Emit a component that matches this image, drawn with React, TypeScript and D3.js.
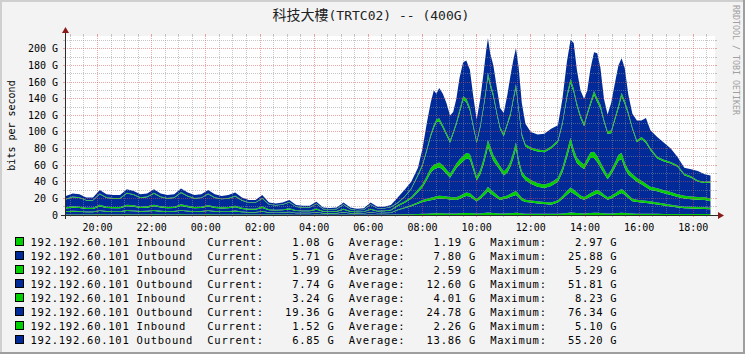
import React from 'react';
import * as d3 from 'd3';

// ---------- data ----------
const timeLabels = [
  '18:50','19:05','19:20','19:35','19:50','20:05','20:20','20:35','20:50','21:05','21:20','21:35','21:50',
  '22:05','22:20','22:35','22:50','23:05','23:20','23:35','23:50','00:05','00:20','00:35','00:50','01:05',
  '01:20','01:35','01:50','02:05','02:20','02:35','02:50','03:05','03:20','03:35','03:50','04:05','04:20',
  '04:35','04:50','05:05','05:20','05:35','05:50','06:05','06:20','06:35','06:50',
  '07:05','07:20','07:35','07:50','08:00','08:10','08:18','08:25','08:31','08:37','08:45','08:53','09:01',
  '09:08','09:15','09:22','09:30','09:37','09:45','09:52','10:00','10:08','10:15','10:21','10:25','10:30',
  '10:37','10:45','10:52','11:00','11:08','11:15','11:21','11:27','11:33','11:40','11:48','12:00','12:15',
  '12:30','12:45','13:00','13:10','13:20','13:28','13:35','13:42','13:50','13:58','14:05','14:12','14:20',
  '14:27','14:34','14:42','14:50','14:58','15:06','15:14','15:21','15:28','15:36','15:45','15:55','16:05',
  '16:15','16:25','16:40','16:55','17:10','17:25','17:40','17:55','18:10','18:25','18:38'
];

const inbound1 = [
  0.6,0.7,0.6,0.6,0.6,0.8,0.7,0.6,0.6,0.8,0.7,0.6,0.7,0.8,0.7,0.6,0.6,0.8,0.7,0.6,0.6,0.8,0.6,0.6,0.6,0.7,
  0.6,0.5,0.5,0.7,0.5,0.5,0.5,0.6,0.4,0.4,0.4,0.5,0.4,0.4,0.4,0.5,0.4,0.3,0.4,0.5,0.4,0.4,0.5,
  0.6,0.8,1.0,1.2,1.4,1.6,1.8,2.0,2.0,2.1,2.0,1.9,1.8,1.8,1.9,2.1,2.3,2.4,2.3,2.0,1.7,1.9,2.3,2.7,2.97,2.7,
  2.4,2.1,1.9,1.8,2.0,2.2,2.5,2.8,2.4,1.9,1.6,1.5,1.5,1.4,1.4,1.5,1.9,2.5,2.9,2.7,2.3,2.0,1.9,2.0,2.3,2.6,
  2.6,2.4,2.0,1.8,1.9,2.1,2.4,2.6,2.4,2.0,1.7,1.6,1.6,1.6,1.5,1.4,1.3,1.2,1.2,1.1,1.1,1.1,1.1,1.08
];
const outbound1 = [
  2.9,3.3,3.2,2.7,2.8,3.9,3.2,3.0,3.1,4.0,3.8,3.2,3.4,4.1,3.3,3.1,3.2,4.2,3.5,3.1,3.3,3.9,3.2,3.0,3.1,3.6,
  2.8,2.5,2.4,3.3,2.2,2.0,2.1,2.6,1.8,1.7,1.7,2.5,1.5,1.4,1.5,2.4,1.5,1.3,1.3,2.4,1.6,1.7,2.0,
  5.1,7.2,9.6,12.4,14.4,15.3,16.0,16.5,17.2,17.7,17.7,17.3,17.0,16.6,16.2,17.3,19.0,20.6,20.1,17.6,14.7,17.6,
  20.7,23.3,25.88,23.5,21.2,18.5,16.1,17.4,18.2,19.7,20.5,21.2,18.6,15.6,14.0,13.5,12.5,11.8,11.1,13.5,17.6,
  22.0,25.1,22.9,20.9,18.0,16.6,18.2,19.7,21.4,23.2,21.8,19.3,16.6,18.1,20.2,22.2,24.0,22.0,18.6,15.0,14.0,
  13.6,13.0,12.5,11.3,10.2,9.1,7.9,6.9,6.7,6.4,6.1,5.71
];
const inbound2 = [
  0.9,1.0,0.9,0.8,0.8,1.1,0.9,0.9,0.9,1.1,1.0,0.9,0.9,1.1,1.0,0.9,0.9,1.1,1.0,0.9,0.9,1.1,0.9,0.9,0.9,1.0,
  0.8,0.7,0.7,0.9,0.6,0.6,0.6,0.7,0.6,0.5,0.5,0.7,0.5,0.5,0.5,0.7,0.5,0.4,0.4,0.7,0.5,0.5,0.6,
  0.8,1.1,1.4,1.8,2.2,2.6,3.0,3.2,3.3,3.4,3.3,3.1,2.9,3.0,3.2,3.6,3.9,4.0,3.9,3.4,2.8,3.3,4.0,4.8,5.29,4.8,
  4.3,3.6,3.1,3.0,3.4,3.8,4.3,4.9,4.2,3.2,2.8,2.6,2.5,2.5,2.6,2.8,3.4,4.4,5.2,4.8,4.1,3.6,3.3,3.6,4.1,4.6,
  4.6,4.2,3.4,3.0,3.2,3.7,4.3,4.6,4.2,3.5,2.9,2.7,2.7,2.7,2.5,2.4,2.3,2.2,2.1,2.0,2.0,2.0,2.0,1.99
];
const outbound2 = [
  3.4,3.8,3.7,3.1,3.0,4.5,3.6,3.6,3.5,4.6,4.3,3.7,3.8,4.5,3.9,3.5,3.7,4.8,4.0,3.6,3.6,4.4,3.7,3.4,3.5,4.0,
  3.1,2.7,2.8,3.6,2.4,2.3,2.4,2.8,2.0,1.9,1.8,2.7,1.6,1.5,1.6,2.6,1.6,1.4,1.5,2.7,1.8,1.8,2.2,
  4.1,5.5,7.5,12.3,15.4,23.4,30.2,33.2,33.7,34.4,31.4,27.4,23.3,29.4,35.4,37.8,39.5,41.0,40.7,32.4,22.3,26.2,
  33.5,42.2,47.86,44.0,37.6,35.1,32.9,25.3,27.7,32.9,40.7,51.1,35.8,26.9,23.6,20.2,17.5,16.9,19.7,22.4,28.7,
  40.7,51.81,41.3,35.3,34.9,33.7,38.6,42.7,40.2,33.6,29.0,25.5,21.6,25.8,31.0,36.6,36.3,27.9,24.6,25.1,21.8,
  19.1,16.0,13.5,13.4,12.5,11.7,10.5,9.8,9.2,9.0,9.0,7.74
];
const inbound3 = [
  1.5,1.7,1.6,1.4,1.4,2.0,1.6,1.6,1.5,2.0,1.9,1.6,1.7,2.0,1.7,1.6,1.6,2.1,1.8,1.5,1.6,1.9,1.6,1.5,1.6,1.8,
  1.4,1.2,1.2,1.6,1.1,1.0,1.1,1.3,1.0,0.9,0.9,1.3,0.8,0.8,0.8,1.3,0.8,0.7,0.7,1.3,0.9,0.9,1.0,
  1.4,1.8,2.2,3.0,3.6,4.5,5.2,5.5,5.6,5.8,5.6,5.2,4.8,5.0,5.4,6.0,6.5,6.7,6.5,5.6,4.6,5.4,6.4,7.5,8.23,7.6,
  6.8,5.8,5.0,4.8,5.5,6.2,7.0,7.8,6.6,5.2,4.6,4.3,4.2,4.1,4.3,4.6,5.6,7.2,8.1,7.6,6.5,5.7,5.4,5.8,6.6,7.3,
  7.2,6.6,5.4,4.8,5.2,6.0,6.9,7.4,6.6,5.6,4.8,4.5,4.4,4.3,4.0,3.8,3.6,3.5,3.4,3.3,3.2,3.2,3.2,3.24
];
const outbound3 = [
  9.5,10.8,10.5,8.8,8.9,12.7,10.5,10.0,10.1,13.3,12.4,10.5,10.8,13.2,10.7,10.0,10.5,13.6,11.3,10.0,10.4,12.8,
  10.5,9.5,9.9,11.2,8.6,7.2,7.3,9.6,5.6,5.1,5.7,7.0,3.8,3.4,3.5,5.6,2.2,2.0,2.1,5.0,2.2,1.6,1.8,4.9,2.5,2.4,3.1,
  2.3,4.9,9.3,16.7,22.0,30.4,37.8,44.4,50.2,49.6,45.0,41.1,37.2,41.8,46.5,55.9,67.8,61.3,52.0,45.7,40.4,50.6,
  60.5,69.0,76.34,72.7,69.7,54.9,44.0,42.7,51.2,55.2,62.0,65.2,58.4,42.2,35.9,36.9,38.3,38.8,40.9,42.7,51.8,
  64.2,66.0,68.2,61.9,52.8,46.1,52.1,56.6,68.9,65.0,65.0,56.4,50.2,44.4,50.5,55.6,68.1,70.5,66.5,53.5,42.9,
  50.1,49.2,44.0,35.7,34.6,34.3,32.9,24.9,22.8,18.3,17.1,19.36
];
const inbound4 = [
  0.8,0.9,0.8,0.7,0.7,1.0,0.8,0.8,0.8,1.0,0.9,0.8,0.9,1.0,0.9,0.8,0.8,1.1,0.9,0.8,0.8,1.0,0.8,0.8,0.8,0.9,
  0.7,0.6,0.6,0.8,0.6,0.5,0.6,0.7,0.5,0.5,0.5,0.7,0.4,0.4,0.5,0.6,0.4,0.4,0.4,0.6,0.5,0.5,0.6,
  0.7,1.0,1.3,1.8,2.4,3.0,3.4,3.6,3.5,3.6,3.5,3.2,3.0,3.1,3.3,3.8,4.2,4.3,4.0,3.4,2.8,3.3,3.9,4.6,5.1,4.6,
  4.2,3.5,3.0,2.9,3.4,3.9,4.3,4.7,4.0,3.1,2.6,2.4,2.3,2.3,2.4,2.5,3.3,4.3,5.0,4.6,4.0,3.5,3.3,3.6,4.0,4.5,
  4.4,4.0,3.2,2.8,3.1,3.6,4.1,4.4,4.0,3.2,2.8,2.6,2.6,2.6,2.4,2.2,2.0,1.9,1.8,1.6,1.6,1.5,1.5,1.52
];
const outbound4 = [
  3.4,3.8,3.7,2.9,2.8,4.0,3.7,3.5,3.5,4.2,4.0,3.7,3.8,4.3,3.8,3.5,3.7,4.3,3.8,3.5,3.8,4.1,3.7,3.3,3.6,3.8,
  3.0,2.6,2.5,3.5,2.0,2.0,2.0,2.3,1.9,1.7,1.7,2.0,1.6,1.5,1.6,1.9,1.6,1.4,1.5,1.9,1.8,1.8,2.0,
  6.0,7.7,7.7,7.8,18.6,31.2,37.6,41.6,30.5,36.4,37.5,35.8,30.0,23.3,28.1,38.5,40.8,45.7,45.5,34.9,25.7,31.7,
  38.7,43.9,41.33,35.1,33.8,28.5,23.0,25.1,33.6,44.1,44.7,43.3,48.0,36.9,24.9,18.6,18.2,20.2,21.6,18.0,27.7,
  39.7,46.89,55.2,40.0,29.5,29.7,26.1,40.0,46.5,54.4,45.0,24.8,20.2,33.3,40.9,47.9,41.6,39.4,21.0,16.2,23.9,
  19.9,27.6,21.6,23.8,20.5,16.1,10.2,7.4,8.4,11.5,9.0,6.85
];

const seriesKeys = ['in1', 'out1', 'in2', 'out2', 'in3', 'out3', 'in4', 'out4'];
const seriesValues = [inbound1, outbound1, inbound2, outbound2, inbound3, outbound3, inbound4, outbound4];
const seriesColors = ['#00CF00', '#002A97', '#00CF00', '#002A97', '#00CF00', '#002A97', '#00CF00', '#002A97'];

const legendLabels = [
  '192.192.60.101 Inbound', '192.192.60.101 Outbound', '192.192.60.101 Inbound', '192.192.60.101 Outbound',
  '192.192.60.101 Inbound', '192.192.60.101 Outbound', '192.192.60.101 Inbound', '192.192.60.101 Outbound'
];
const legendCurrent = [1.08, 5.71, 1.99, 7.74, 3.24, 19.36, 1.52, 6.85];
const legendAverage = [1.19, 7.80, 2.59, 12.60, 4.01, 24.78, 2.26, 13.86];
const legendMaximum = [2.97, 25.88, 5.29, 51.81, 8.23, 76.34, 5.10, 55.20];

const yTickValues = [0, 20, 40, 60, 80, 100, 120, 140, 160, 180, 200];
const yMinorValues = [10, 30, 50, 70, 90, 110, 130, 150, 170, 190, 210];

const titleCJK = '科技大樓';
const titleRest = '(TRTC02) -- (400G)';

// ---------- layout ----------
const W = 745, H = 354;
const X0 = 65, X1 = 715, Y0 = 215, Y1 = 36;
const MONO = '"DejaVu Sans Mono", monospace';

function parseTimes(labels: string[]): Date[] {
  let day = 0;
  let prev = -1;
  return labels.map((s) => {
    const [h, m] = s.split(':').map(Number);
    const mins = h * 60 + m;
    if (prev >= 0 && mins < prev) day += 1;
    prev = mins;
    return new Date(2024, 0, 1 + day, h, m);
  });
}

export default function App() {
  const dates = parseTimes(timeLabels);
  const rows = dates.map((d, i) => {
    const r: any = { date: d };
    seriesKeys.forEach((k, j) => (r[k] = seriesValues[j][i]));
    return r;
  });

  const tStart = new Date(2024, 0, 1, 18, 48);
  const tEnd = new Date(2024, 0, 2, 18, 48);
  const x = d3.scaleTime().domain([tStart, tEnd]).range([X0, X1]);
  const y = d3.scaleLinear().domain([0, 215.66]).range([Y0, Y1]);

  const stacked = d3.stack<any>().keys(seriesKeys)(rows);
  const area = d3
    .area<any>()
    .x((d) => x(d.data.date))
    .y0((d) => y(d[0]))
    .y1((d) => y(d[1]))
    .curve(d3.curveLinear);

  const halfHours = d3.timeMinute.every(30)!.range(tStart, tEnd);
  const isMajor = (t: Date) => t.getMinutes() === 0 && t.getHours() % 2 === 0;
  const px = (v: number) => Math.floor(v) + 0.5;

  const gridGray = 'rgba(143,143,143,0.5)';
  const gridRed = 'rgba(222,80,80,0.5)';
  const fmt = d3.format('.2f');

  return (
    <svg
      width={W}
      height={H}
      style={{ position: 'absolute', left: 0, top: 0 }}
      xmlns="http://www.w3.org/2000/svg"
    >
      {/* background + frame */}
      <rect x={0} y={0} width={W} height={H} fill="#f3f3f3" />
      <rect x={0} y={0} width={W} height={2} fill="#cfcfcf" />
      <rect x={0} y={0} width={2} height={H} fill="#cfcfcf" />
      <rect x={0} y={H - 2} width={W} height={2} fill="#9e9e9e" />
      <rect x={W - 2} y={0} width={2} height={H} fill="#9e9e9e" />

      {/* canvas */}
      <rect x={X0} y={Y1} width={X1 - X0} height={Y0 - Y1} fill="#ffffff" />

      {/* stacked areas */}
      <g>
        {stacked.map((s, i) => (
          <path key={s.key} d={area(s) || ''} fill={seriesColors[i]} />
        ))}
      </g>

      {/* grid */}
      <g shapeRendering="crispEdges">
        {yMinorValues.map((v) => (
          <g key={'ym' + v}>
            <line x1={X0} x2={X1} y1={px(y(v))} y2={px(y(v))} stroke={gridGray} strokeDasharray="1,1" />
            <line x1={X0 - 2} x2={X0} y1={px(y(v))} y2={px(y(v))} stroke={gridGray} />
            <line x1={X1} x2={X1 + 2} y1={px(y(v))} y2={px(y(v))} stroke={gridGray} />
          </g>
        ))}
        {halfHours
          .filter((t) => !isMajor(t))
          .map((t) => (
            <g key={'xm' + t.getTime()}>
              <line x1={px(x(t))} x2={px(x(t))} y1={Y1} y2={Y0} stroke={gridGray} strokeDasharray="1,1" />
              <line x1={px(x(t))} x2={px(x(t))} y1={Y0} y2={Y0 + 2} stroke={gridGray} />
              <line x1={px(x(t))} x2={px(x(t))} y1={Y1 - 2} y2={Y1} stroke={gridGray} />
            </g>
          ))}
        {yTickValues
          .filter((v) => v > 0)
          .map((v) => (
            <g key={'yM' + v}>
              <line x1={X0} x2={X1} y1={px(y(v))} y2={px(y(v))} stroke={gridRed} strokeDasharray="1,1" />
              <line x1={X0 - 2} x2={X0} y1={px(y(v))} y2={px(y(v))} stroke={gridRed} />
              <line x1={X1} x2={X1 + 2} y1={px(y(v))} y2={px(y(v))} stroke={gridRed} />
            </g>
          ))}
        {halfHours.filter(isMajor).map((t) => (
          <g key={'xM' + t.getTime()}>
            <line x1={px(x(t))} x2={px(x(t))} y1={Y1} y2={Y0} stroke={gridRed} strokeDasharray="1,1" />
            <line x1={px(x(t))} x2={px(x(t))} y1={Y0} y2={Y0 + 2} stroke={gridRed} />
            <line x1={px(x(t))} x2={px(x(t))} y1={Y1 - 2} y2={Y1} stroke={gridRed} />
          </g>
        ))}
      </g>

      {/* axes */}
      <g shapeRendering="crispEdges">
        <line x1={X0 - 4} x2={X1 + 4} y1={Y0 + 0.5} y2={Y0 + 0.5} stroke="#2c2c2c" />
        <line x1={X0 + 0.5} x2={X0 + 0.5} y1={Y1 - 3} y2={Y0 + 4} stroke="#2c2c2c" />
      </g>
      <path d={`M${X1 + 3},${Y0 - 3} L${X1 + 9},${Y0 + 0.5} L${X1 + 3},${Y0 + 4} Z`} fill="#8b1a1a" />
      <path d={`M${X0 - 3},${Y1 - 3} L${X0 + 0.5},${Y1 - 9} L${X0 + 4},${Y1 - 3} Z`} fill="#8b1a1a" />

      {/* y tick labels */}
      <g fontFamily={MONO} fontSize={10} fill="#000">
        {yTickValues.map((v) => (
          <text key={'yl' + v} x={58} y={y(v) + 3.5} textAnchor="end">
            {v === 0 ? '0' : `${v} G`}
          </text>
        ))}
        {halfHours.filter(isMajor).map((t) => (
          <text key={'xl' + t.getTime()} x={x(t)} y={231} textAnchor="middle">
            {d3.timeFormat('%H:%M')(t)}
          </text>
        ))}
        <text transform="translate(14.5,125.5) rotate(-90)" textAnchor="middle">
          bits per second
        </text>
      </g>

      {/* title */}
      <text x={272.5} y={19.5} fill="#222">
        <tspan fontFamily='"Noto Sans CJK TC", "Noto Sans CJK SC", sans-serif' fontSize={14}>
          {titleCJK}
        </tspan>
        <tspan fontFamily={MONO} fontSize={13}>
          {titleRest}
        </tspan>
      </text>

      {/* watermark */}
      <text
        transform="translate(732.5,5) rotate(90)"
        fontFamily={MONO}
        fontSize={8.3}
        fill="#a0a0a0"
      >
        RRDTOOL / TOBI OETIKER
      </text>

      {/* legend */}
      <g fontFamily={MONO} fontSize={10.5} fill="#000">
        {legendLabels.map((lab, i) => {
          const base = 245.5 + i * 14;
          const line =
            lab.padEnd(25) +
            'Current:' +
            fmt(legendCurrent[i]).padStart(8) +
            ' G  Average:' +
            fmt(legendAverage[i]).padStart(8) +
            ' G  Maximum:' +
            fmt(legendMaximum[i]).padStart(8) +
            ' G';
          return (
            <g key={'lg' + i}>
              <rect x={15.5} y={base - 8} width={8} height={8} fill={seriesColors[i]} stroke="#000" />
              <text x={30.5} y={base} style={{ whiteSpace: 'pre', letterSpacing: '0.75px' }}>
                {line}
              </text>
            </g>
          );
        })}
      </g>
    </svg>
  );
}
